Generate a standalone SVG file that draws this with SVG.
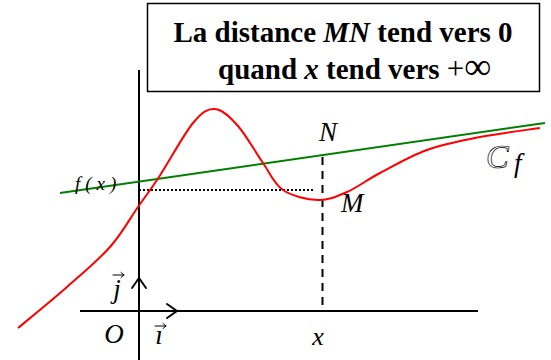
<svg xmlns="http://www.w3.org/2000/svg" width="551" height="360" viewBox="0 0 551 360">
<defs>
<style>
.ax{stroke:#000;stroke-width:2;fill:none}
.arr{stroke:#000;stroke-width:2;fill:none;stroke-linecap:round;stroke-linejoin:round}
.vec{stroke:#000;stroke-width:1;fill:none;stroke-linecap:round;stroke-linejoin:round}
.lbl{font-family:"Liberation Serif","DejaVu Serif",serif;font-style:italic;fill:#000}
.title{font-family:"Liberation Serif","Times New Roman",serif;font-weight:bold;font-size:29px;fill:#000}
</style>
</defs>
<rect width="551" height="360" fill="#fff"/>
<g id="title-box">
<rect x="147.5" y="3.5" width="392" height="88" fill="#fff" stroke="#000" stroke-width="1.5"/>
<text class="title" x="343" y="42" text-anchor="middle">La distance <tspan font-style="italic">MN</tspan> tend vers 0</text>
<text class="title" x="218" y="79">quand <tspan font-style="italic">x</tspan> tend vers <tspan font-weight="normal" font-size="31">+<tspan font-size="38">∞</tspan></tspan></text>
</g>
<g id="axes">
<line class="ax" x1="139" y1="70" x2="139" y2="360"/>
<line class="ax" x1="80" y1="311" x2="478" y2="311"/>
<line class="ax" x1="139" y1="311" x2="177" y2="311" stroke-width="2.5"/>
<polyline class="arr" points="167,304 177,311 167,318"/>
<polyline class="arr" points="132,288 139,278 146,288"/>
<text class="lbl" x="114" y="343" font-size="27" text-anchor="middle">O</text>
<text class="lbl" x="159" y="344" font-size="27" text-anchor="middle">ı</text>
<path class="vec" d="M155,326 H166 M163,323.5 L166,326 L163,328.5"/>
<text class="lbl" x="117" y="298" font-size="27" text-anchor="middle">j</text>
<path class="vec" d="M113,275 H124 M121,272.5 L124,275 L121,277.5"/>
<text class="lbl" x="318" y="345" font-size="26" text-anchor="middle">x</text>
</g>
<g id="connectors">
<line x1="60" y1="193" x2="545" y2="123" stroke="#008000" stroke-width="2"/>
<line x1="322.5" y1="157" x2="322.5" y2="311" stroke="#000" stroke-width="2" stroke-dasharray="8,6"/>
<line x1="139" y1="190" x2="315" y2="190" stroke="#000" stroke-width="2" stroke-dasharray="2,2"/>
<path d="M18,328 C26.2,321.2 51.7,300.5 67,287 C82.3,273.5 98.2,260.3 110,247 C121.8,233.7 129.8,218.7 138,207 C146.2,195.3 149.8,191 159,177 C168.2,163 183.7,134.3 193,123 C202.3,111.7 207.5,108.5 215,109 C222.5,109.5 230,117 238,126 C246,135 255.5,152.3 263,163 C270.5,173.7 273.8,183.8 283,190 C292.2,196.2 307.3,199.7 318,200 C328.7,200.3 336.7,196.5 347,192 C357.3,187.5 366.7,180 380,173 C393.3,166 410.3,156 427,150 C443.7,144 461.2,140.7 480,137 C498.8,133.3 530,129.5 540,128" fill="none" stroke="#f00" stroke-width="2"/>
</g>
<g id="labels">
<text class="lbl" x="75" y="190" font-size="19" letter-spacing="5">f(x)</text>
<text class="lbl" x="328" y="141" font-size="27" text-anchor="middle">N</text>
<text class="lbl" x="341" y="212" font-size="27">M</text>
<text x="486" y="168" font-family="'Liberation Serif',serif" font-style="italic" font-size="34" fill="none" stroke="#000" stroke-width="0.7">C</text>
<text class="lbl" x="514" y="172" font-size="27">f</text>
</g>
</svg>
